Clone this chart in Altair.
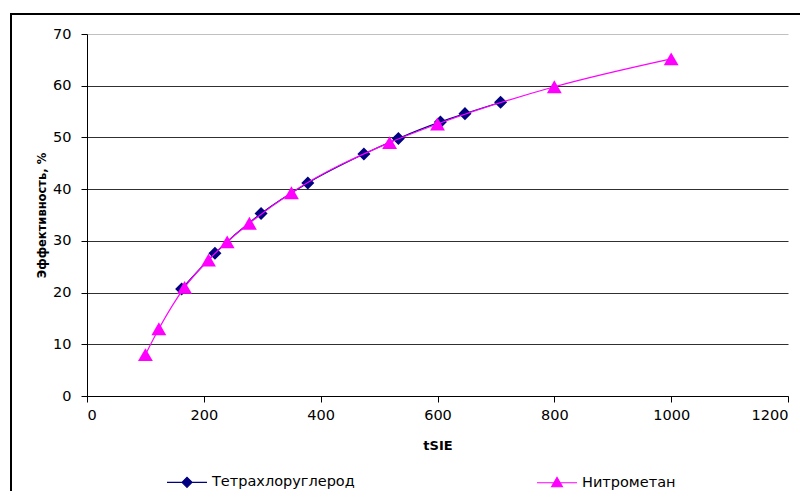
import altair as alt
import pandas as pd

# --- data ---
series = ["Тетрахлоруглерод", "Нитрометан"]
colors = ["#000080", "#FF00FF"]

ccl4_x = [162, 219, 298, 378, 474, 533, 605, 647, 708]
ccl4_y = [20.7, 27.6, 35.3, 41.2, 46.8, 49.8, 53.0, 54.6, 56.8]

nm_x = [100, 123, 167, 208, 240, 278, 350, 518, 600, 800, 1000]
nm_y = [8.0, 13.0, 21.0, 26.3, 29.8, 33.4, 39.3, 49.0, 52.6, 59.8, 65.2]

x_ticks = [0, 200, 400, 600, 800, 1000, 1200]
y_ticks = [0, 10, 20, 30, 40, 50, 60, 70]

df_c = pd.DataFrame({"x": ccl4_x, "y": ccl4_y, "series": series[0]})
df_n = pd.DataFrame({"x": nm_x, "y": nm_y, "series": series[1]})
df_leg = pd.DataFrame({"series": series})

W, H = 701, 362
FONT = "DejaVu Sans"

xs = alt.Scale(domain=[0, 1200], nice=False, zero=False)
ys = alt.Scale(domain=[0, 70], nice=False)

x_enc = alt.X(
    "x:Q", scale=xs,
    axis=alt.Axis(values=x_ticks, title="tSIE", grid=False, tickSize=6,
                  labelPadding=6, titlePadding=18, titleFontWeight="bold",
                  titleFontSize=13, labelFontSize=14.5, labelFont=FONT, titleFont=FONT,
                  domainColor="black", tickColor="black", labelColor="black",
                  titleColor="black", format="d")
)
y_enc = alt.Y(
    "y:Q", scale=ys,
    axis=alt.Axis(values=y_ticks, title="Эффективность, %", grid=True,
                  gridColor=alt.condition("datum.value == 70", alt.value("#c0c0c0"), alt.value("#303030")),
                  gridWidth=1.2, tickSize=6, labelPadding=10, titlePadding=5,
                  titleFontWeight="bold", titleFontSize=11.5, labelFontSize=14.5,
                  labelFont=FONT, titleFont=FONT, domainColor="black",
                  tickColor="black", labelColor="black", titleColor="black")
)

line_c = alt.Chart(df_c).mark_line(interpolate="monotone", color=colors[0], strokeWidth=1.2).encode(x=x_enc, y=y_enc)
pts_c = alt.Chart(df_c).mark_point(shape="diamond", filled=True, color=colors[0], size=170, opacity=1).encode(x="x:Q", y="y:Q")
line_n = alt.Chart(df_n).mark_line(interpolate="monotone", color=colors[1], strokeWidth=1.2).encode(x="x:Q", y="y:Q")
pts_n = alt.Chart(df_n).mark_point(shape="triangle-up", filled=True, color=colors[1], size=220, opacity=1).encode(x="x:Q", y="y:Q")

# legend symbols: line segment + marker
path_diamond = "M-1,0L1,0M-0.25,0L0,-0.25L0.25,0L0,0.25Z"
path_triangle = "M-1,0L1,0M-0.27,0.2L0,-0.27L0.27,0.2Z"

legend = alt.Legend(title=None, orient="none", legendX=79, legendY=427,
                    direction="horizontal", columns=2, columnPadding=179,
                    symbolSize=1600, labelOffset=4, labelFontSize=14.5,
                    labelFont=FONT, labelColor="black", padding=0,
                    symbolStrokeWidth=1.2, labelLimit=400)

leg_layer = alt.Chart(df_leg).mark_point(filled=True, clip=True, size=1600, strokeWidth=1.2, opacity=1).encode(
    x=alt.value(-300), y=alt.value(-300),
    fill=alt.Fill("series:N", scale=alt.Scale(domain=series, range=colors), legend=legend),
    stroke=alt.Stroke("series:N", scale=alt.Scale(domain=series, range=colors), legend=legend),
    shape=alt.Shape("series:N", scale=alt.Scale(domain=series, range=[path_diamond, path_triangle]), legend=legend),
)

# outer chart border (left and top edges visible)
border_left = alt.Chart(df_leg).mark_rule(color="black", strokeWidth=2, clip=False).encode(
    x=alt.value(-76), y=alt.value(-20), y2=alt.value(480))
border_top = alt.Chart(df_leg).mark_rule(color="black", strokeWidth=2, clip=False).encode(
    x=alt.value(-77), x2=alt.value(730), y=alt.value(-20))

chart = alt.layer(
    border_left, border_top, line_c, pts_c, line_n, pts_n, leg_layer
).properties(
    width=W, height=H,
    autosize=alt.AutoSizeParams(type="none"),
    padding={"left": 79, "top": 26, "right": 12, "bottom": 95},
    background="white",
).configure_view(stroke=None)

chart.save("out.html", embed_options={"renderer": "svg", "actions": False})
